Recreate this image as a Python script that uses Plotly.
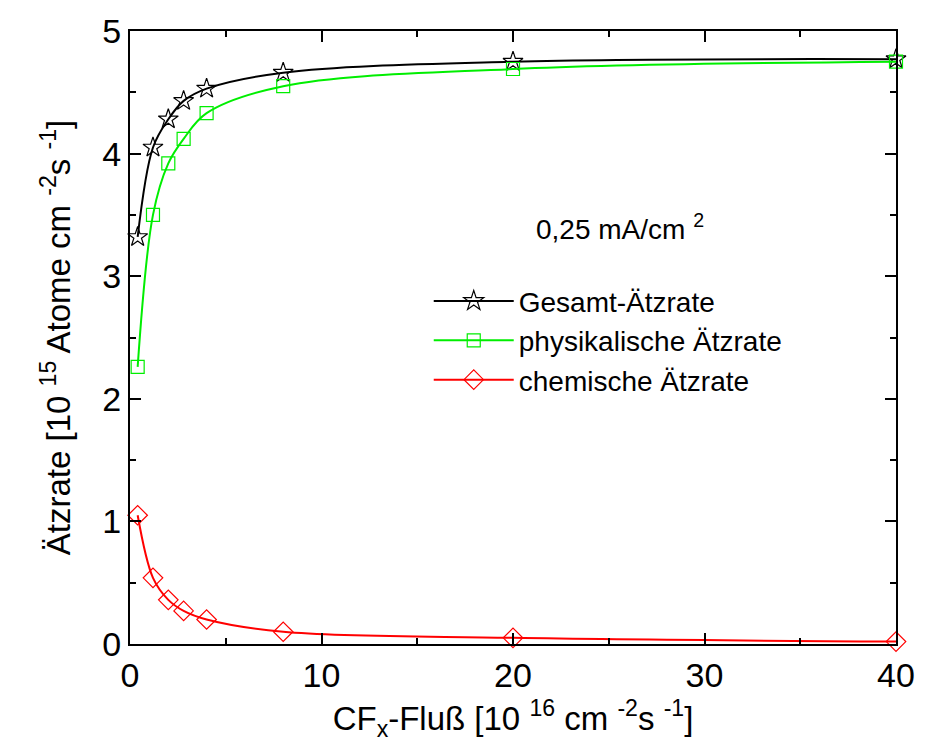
import plotly.graph_objects as go

flux = [0.4, 1.2, 2.0, 2.8, 4.0, 8.0, 20.0, 40.0]
gesamt = [3.32, 4.05, 4.28, 4.43, 4.53, 4.66, 4.75, 4.77]
physikalisch = [2.26, 3.50, 3.92, 4.12, 4.33, 4.55, 4.69, 4.75]
chemisch = [1.05, 0.54, 0.36, 0.27, 0.20, 0.10, 0.05, 0.02]

names = ["Gesamt-Ätzrate", "physikalische Ätzrate", "chemische Ätzrate"]
font = "Liberation Sans, Arial, sans-serif"

fig = go.Figure()
specs = [
    (gesamt, names[0], "black", "star-open", 15),
    (physikalisch, names[1], "#00ee00", "square-open", 13),
    (chemisch, names[2], "#ff0000", "diamond-open", 15),
]
for ys, nm, col, sym, sz in specs:
    fig.add_trace(go.Scatter(
        x=flux, y=ys, name=nm, mode="lines+markers",
        line=dict(color=col, width=2, shape="spline", smoothing=1.0),
        marker=dict(symbol=sym, size=sz, color=col, line=dict(width=1.2, color=col)),
        cliponaxis=False,
    ))

axis_common = dict(
    showgrid=False, zeroline=False, showline=True, linecolor="black", linewidth=2,
    mirror="ticks", ticks="inside", ticklen=11, tickwidth=2, tickcolor="black",
    tickfont=dict(family=font, size=34, color="black"),
)
fig.update_xaxes(
    range=[0, 40], dtick=10, tick0=0,
    minor=dict(ticks="inside", dtick=5, ticklen=6, tickwidth=2, tickcolor="black"),
    title=dict(text="CF<sub>x</sub>-Fluß [10 <sup>16</sup> cm <sup>-2</sup>s <sup>-1</sup>]",
               font=dict(family=font, size=33, color="black"), standoff=14),
    **axis_common,
)
fig.update_yaxes(
    range=[0, 5], dtick=1, tick0=0,
    minor=dict(ticks="inside", dtick=0.5, ticklen=6, tickwidth=2, tickcolor="black"),
    title=dict(text="Ätzrate [10 <sup>15</sup> Atome cm <sup>-2</sup>s <sup>-1</sup>]",
               font=dict(family=font, size=33, color="black"), standoff=22),
    **axis_common,
)

fig.add_annotation(
    x=0.64, y=0.68, xref="paper", yref="paper", xanchor="center", yanchor="middle",
    text="0,25 mA/cm <sup>2</sup>", showarrow=False,
    font=dict(family=font, size=28, color="black"),
)

fig.update_layout(
    width=930, height=752,
    margin=dict(l=130, r=34, t=21, b=108),
    paper_bgcolor="white", plot_bgcolor="white",
    showlegend=True,
    legend=dict(
        x=0.39, y=0.6, xanchor="left", yanchor="top",
        bgcolor="rgba(0,0,0,0)", borderwidth=0,
        font=dict(family=font, size=28, color="black"),
        itemwidth=80, tracegroupgap=0,
    ),
)

fig.write_html("out.html")
